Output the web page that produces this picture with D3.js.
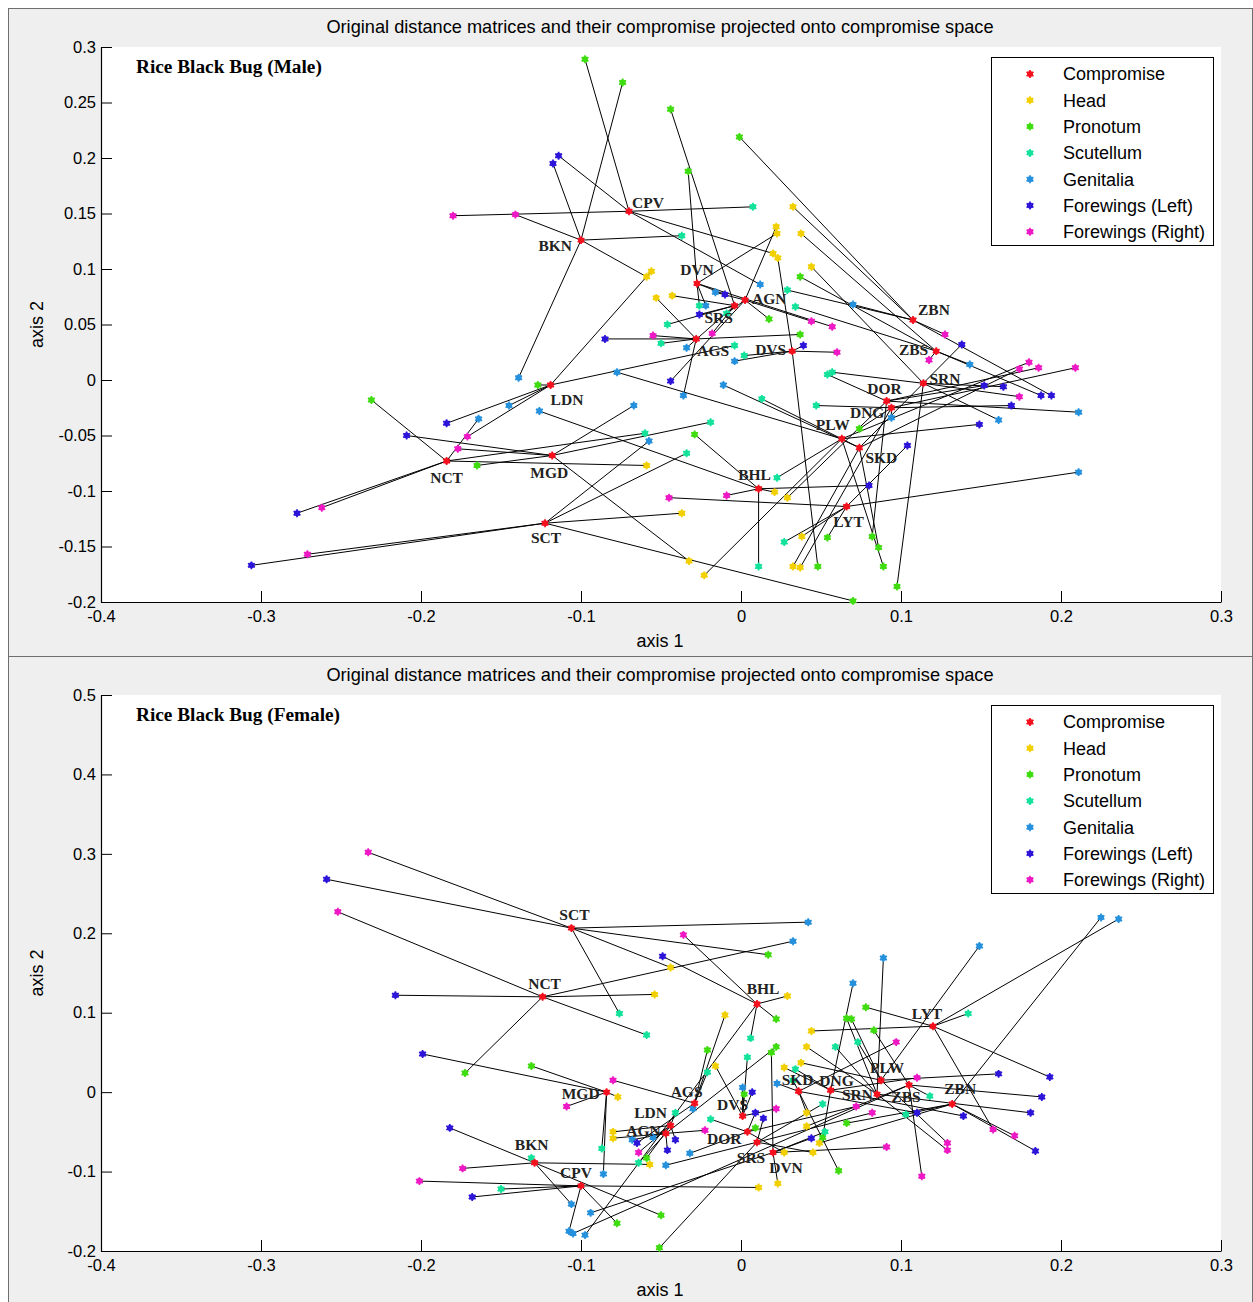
<!DOCTYPE html>
<html>
<head>
<meta charset="utf-8">
<script src="https://cdn.jsdelivr.net/npm/d3@7"></script>
<style>
  body { margin: 0; background: #fff; }
  text { font-family: "Liberation Sans", Arial, sans-serif; }
  .site, .note { font-family: "Liberation Serif", "Times New Roman", serif; font-weight: bold; }
</style>
</head>
<body>
<div id="chart"></div>
<script>
const sites = ['CPV','BKN','DVN','AGN','SRS','AGS','DVS','LDN','MGD','SCT','NCT','BHL','PLW','LYT','SKD','DNG','DOR','SRN','ZBS','ZBN']
const seriesNames = ['Compromise','Head','Pronotum','Scutellum','Genitalia','Forewings (Left)','Forewings (Right)']
const xTicks = [-0.4,-0.3,-0.2,-0.1,0,0.1,0.2,0.3]
const yTicksMale = [-0.2,-0.15,-0.1,-0.05,0,0.05,0.1,0.15,0.2,0.25,0.3]
const yTicksFemale = [-0.2,-0.1,0,0.1,0.2,0.3,0.4,0.5]

// male, [axis 1, axis 2] per site in the order of `sites`
const maleCompromise = [[-0.070,0.152],[-0.100,0.126],[-0.0275,0.087],[0.0025,0.072],[-0.004,0.067],[-0.028,0.037],[0.032,0.026],[-0.119,-0.0045],[-0.118,-0.068],[-0.1225,-0.129],[-0.184,-0.073],[0.011,-0.098],[0.063,-0.053],[0.066,-0.114],[0.074,-0.061],[0.094,-0.025],[0.091,-0.019],[0.114,-0.003],[0.122,0.026],[0.1075,0.054]]
const maleHead = [[0.020,0.114],[-0.059,0.093],[0.0225,0.132],[0.022,0.138],[-0.043,0.076],[-0.053,0.074],[0.023,0.110],[-0.056,0.098],[-0.0325,-0.163],[-0.037,-0.120],[-0.059,-0.077],[0.021,-0.101],[-0.023,-0.176],[0.038,-0.141],[0.0325,-0.168],[0.037,-0.169],[0.029,-0.106],[0.044,0.102],[0.0375,0.132],[0.0325,0.156]]
const malePronotum = [[-0.0975,0.289],[-0.074,0.268],[-0.033,0.188],[0.0175,0.055],[-0.044,0.244],[0.037,0.041],[0.048,-0.168],[-0.127,-0.0045],[-0.165,-0.077],[0.070,-0.199],[-0.231,-0.018],[-0.029,-0.049],[0.089,-0.168],[0.054,-0.142],[0.086,-0.151],[0.074,-0.044],[0.082,-0.141],[0.0975,-0.186],[0.037,0.093],[-0.001,0.219]]
const maleScutellum = [[0.0075,0.156],[-0.037,0.130],[-0.026,0.067],[-0.009,0.060],[-0.046,0.050],[-0.050,0.033],[0.002,0.022],[-0.004,0.031],[-0.019,-0.038],[-0.034,-0.066],[-0.060,-0.048],[0.011,-0.168],[0.0225,-0.088],[0.027,-0.146],[0.013,-0.017],[0.047,-0.023],[0.054,0.005],[0.057,0.007],[0.034,0.066],[0.029,0.081]]
const maleGenitalia = [[0.012,0.086],[-0.139,0.002],[-0.022,0.067],[-0.016,0.079],[-0.034,0.029],[-0.036,-0.014],[-0.004,0.017],[-0.145,-0.023],[-0.067,-0.023],[-0.0575,-0.055],[-0.164,-0.035],[-0.126,-0.028],[-0.0775,0.007],[0.211,-0.083],[-0.011,-0.0045],[0.094,-0.034],[0.211,-0.029],[0.161,-0.036],[0.143,0.014],[0.070,0.068]]
const maleWingLeft = [[-0.114,0.202],[-0.1175,0.195],[-0.010,0.077],[-0.044,-0.001],[-0.026,0.059],[-0.085,0.037],[0.039,0.031],[-0.184,-0.039],[-0.209,-0.050],[-0.306,-0.167],[-0.2775,-0.120],[0.080,-0.095],[0.149,-0.040],[0.104,-0.059],[0.138,0.032],[0.169,-0.023],[0.152,-0.005],[0.164,-0.006],[0.1875,-0.014],[0.194,-0.014]]
const maleWingRight = [[-0.180,0.148],[-0.141,0.149],[0.057,0.048],[0.044,0.053],[-0.018,0.042],[-0.055,0.040],[0.060,0.025],[-0.171,-0.051],[-0.177,-0.062],[-0.271,-0.157],[-0.262,-0.115],[-0.009,-0.104],[0.180,0.016],[-0.045,-0.106],[0.174,0.010],[0.209,0.011],[0.186,0.011],[0.174,-0.015],[0.1175,0.018],[0.1275,0.041]]

// female
const femaleCompromise = [[-0.100,-0.118],[-0.129,-0.089],[0.020,-0.076],[-0.047,-0.052],[0.010,-0.063],[-0.029,-0.014],[0.001,-0.030],[-0.044,-0.042],[-0.084,0.000],[-0.106,0.2065],[-0.124,0.120],[0.010,0.111],[0.0875,0.015],[0.120,0.083],[0.036,0.001],[0.056,0.0025],[0.004,-0.050],[0.085,-0.0025],[0.105,0.009],[0.132,-0.015]]
const femaleHead = [[0.011,-0.120],[-0.057,-0.091],[0.023,-0.115],[-0.080,-0.058],[0.045,-0.076],[-0.010,0.097],[-0.016,0.033],[-0.080,-0.050],[-0.077,-0.006],[-0.044,0.157],[-0.054,0.123],[0.029,0.121],[0.0375,0.037],[0.044,0.077],[0.041,-0.026],[0.027,0.031],[0.027,-0.076],[0.041,0.057],[0.041,-0.043],[0.049,-0.064]]
const femalePronotum = [[-0.0775,-0.165],[-0.050,-0.155],[0.019,0.050],[0.022,0.057],[-0.051,-0.196],[-0.021,0.053],[0.002,-0.0025],[-0.059,-0.083],[-0.131,0.033],[0.017,0.173],[-0.1725,0.024],[0.022,0.092],[0.069,0.092],[0.078,0.107],[0.061,-0.099],[0.051,-0.057],[0.009,-0.045],[0.066,0.093],[0.083,0.078],[0.066,-0.039]]
const femaleScutellum = [[-0.150,-0.122],[-0.131,-0.083],[0.0525,-0.050],[-0.064,-0.089],[0.051,-0.015],[-0.021,0.025],[0.004,0.044],[-0.041,-0.026],[-0.087,-0.071],[-0.076,0.099],[-0.059,0.072],[0.006,0.068],[0.073,0.063],[0.142,0.099],[0.0325,0.015],[0.034,0.029],[-0.019,-0.034],[0.059,0.057],[0.118,-0.005],[0.103,-0.028]]
const femaleGenitalia = [[-0.1075,-0.175],[-0.106,-0.141],[-0.094,-0.152],[-0.068,-0.060],[-0.047,-0.092],[-0.030,-0.021],[0.001,0.006],[-0.055,-0.057],[-0.086,-0.103],[0.042,0.214],[0.0325,0.190],[-0.0975,-0.180],[0.149,0.184],[0.236,0.218],[0.0225,0.011],[0.070,0.137],[-0.032,-0.077],[0.089,0.169],[-0.105,-0.178],[0.225,0.220]]
const femaleWingLeft = [[-0.168,-0.132],[-0.182,-0.045],[0.044,-0.058],[-0.046,-0.073],[0.014,-0.033],[-0.065,-0.064],[0.007,0.000],[-0.041,-0.060],[-0.199,0.048],[-0.259,0.268],[-0.216,0.122],[-0.049,0.171],[0.161,0.023],[0.193,0.019],[0.110,-0.026],[0.139,-0.030],[0.009,-0.026],[0.181,-0.026],[0.188,-0.006],[0.184,-0.074]]
const femaleWingRight = [[-0.201,-0.112],[-0.174,-0.096],[0.091,-0.069],[-0.0225,-0.048],[0.082,-0.026],[-0.080,0.015],[0.022,-0.021],[-0.064,-0.076],[-0.109,-0.018],[-0.233,0.302],[-0.252,0.227],[-0.036,0.198],[0.129,-0.064],[0.1575,-0.047],[0.097,0.063],[0.110,0.018],[0.072,-0.018],[0.129,-0.073],[0.113,-0.106],[0.171,-0.055]]

const colors = ['#f5101e', '#f2d000', '#3fdc10', '#12e29a', '#2590dc', '#2c14d8', '#ee18c4']

// label placement next to each compromise point: [dx, dy, anchor]
const maleLabelPos = {
  CPV: [3,-9,'start'], BKN: [-9,5,'end'], DVN: [0,-14,'middle'], AGN: [7,-2,'start'],
  SRS: [-16,12,'middle'], AGS: [1,12,'start'], DVS: [-6,-2,'end'], LDN: [0,15,'start'],
  MGD: [-3,17,'middle'], SCT: [1,14,'middle'], NCT: [0,17,'middle'], BHL: [-4,-14,'middle'],
  PLW: [-9,-14,'middle'], LYT: [2,15,'middle'], SKD: [6,10,'start'], DNG: [-7,5,'end'],
  DOR: [-2,-13,'middle'], SRN: [6,-5,'start'], ZBS: [-8,-2,'end'], ZBN: [5,-10,'start']
}
const femaleLabelPos = {
  SCT: [3,-14,'middle'], NCT: [2,-13,'middle'], BHL: [6,-15,'middle'], LYT: [-6,-13,'middle'],
  PLW: [6,-13,'middle'], SKD: [-1,-12,'middle'], DNG: [6,-10,'middle'], SRN: [-4,0,'end'],
  ZBS: [-3,12,'middle'], ZBN: [8,-15,'middle'], MGD: [-7,1,'end'], AGS: [-8,-12,'middle'],
  DVS: [-10,-11,'middle'], LDN: [-20,-13,'middle'], AGN: [-5,-3,'end'], DOR: [-6,7,'end'],
  SRS: [-6,15,'middle'], DVN: [13,15,'middle'], BKN: [-3,-18,'middle'], CPV: [-5,-13,'middle']
}

const panels = [
  {
    frame: [8, 8, 1244, 648], top: 47, bottom: 602,
    yDomain: [-0.2, 0.3], yTicks: yTicksMale, note: 'Rice Black Bug (Male)',
    series: [maleCompromise, maleHead, malePronotum, maleScutellum, maleGenitalia, maleWingLeft, maleWingRight],
    labelPos: maleLabelPos
  },
  {
    frame: [8, 656, 1244, 646], top: 695, bottom: 1251,
    yDomain: [-0.2, 0.5], yTicks: yTicksFemale, note: 'Rice Black Bug (Female)',
    series: [femaleCompromise, femaleHead, femalePronotum, femaleScutellum, femaleGenitalia, femaleWingLeft, femaleWingRight],
    labelPos: femaleLabelPos
  }
]

const width = 1253
const height = 1302
const left = 101
const right = 1221
const title = 'Original distance matrices and their compromise projected onto compromise space'
const fmt = d => String(+d.toFixed(2))

const svg = d3.select('#chart').append('svg')
  .attr('width', width)
  .attr('height', height)

svg.append('rect').attr('width', width).attr('height', height).attr('fill', '#fff')

const drawMarker = (g, x, y, color) => {
  g.append('path')
    .attr('d', d3.symbol(d3.symbolAsterisk, 44)())
    .attr('transform', `translate(${x},${y})`)
    .attr('stroke', color)
    .attr('stroke-width', 1.7)
    .attr('fill', 'none')
  g.append('circle')
    .attr('cx', x).attr('cy', y).attr('r', 3)
    .attr('fill', color)
}

panels.forEach(p => {
  const [fx, fy, fw, fh] = p.frame
  svg.append('rect')
    .attr('x', fx + 0.5).attr('y', fy + 0.5)
    .attr('width', fw).attr('height', fh)
    .attr('fill', '#efefef')
    .attr('stroke', '#6e6e6e')

  svg.append('rect')
    .attr('x', left).attr('y', p.top)
    .attr('width', right - left).attr('height', p.bottom - p.top)
    .attr('fill', '#fff')

  const x = d3.scaleLinear().domain([-0.4, 0.3]).range([left, right])
  const y = d3.scaleLinear().domain(p.yDomain).range([p.bottom, p.top])

  // axes
  const xAxis = d3.axisBottom(x).tickValues(xTicks).tickSizeInner(-11).tickSizeOuter(0).tickPadding(8).tickFormat(fmt)
  const yAxis = d3.axisLeft(y).tickValues(p.yTicks).tickSizeInner(-11).tickSizeOuter(0).tickPadding(5).tickFormat(fmt)

  const gx = svg.append('g')
    .attr('transform', `translate(0,${p.bottom})`)
    .call(xAxis)
  const gy = svg.append('g')
    .attr('transform', `translate(${left},0)`)
    .call(yAxis)
  ;[gx, gy].forEach(g => {
    g.select('.domain').attr('stroke', '#000').attr('stroke-width', 1.2)
    g.selectAll('.tick line').attr('stroke', '#000')
    g.selectAll('.tick text').attr('fill', '#000').style('font-size', '16.5px')
      .style('font-family', '"Liberation Sans", Arial, sans-serif')
  })

  // titles
  svg.append('text')
    .attr('x', (left + right) / 2 - 1).attr('y', p.top - 20)
    .attr('text-anchor', 'middle').attr('dy', '0.35em')
    .style('font-size', '18.2px')
    .text(title)
  svg.append('text')
    .attr('x', (left + right) / 2 - 1).attr('y', p.bottom + 39)
    .attr('text-anchor', 'middle').attr('dy', '0.35em')
    .style('font-size', '18px')
    .text('axis 1')
  svg.append('text')
    .attr('transform', `translate(37,${(p.top + p.bottom) / 2}) rotate(-90)`)
    .attr('text-anchor', 'middle').attr('dy', '0.35em')
    .style('font-size', '18px')
    .text('axis 2')
  svg.append('text')
    .attr('class', 'note')
    .attr('x', 136).attr('y', p.top + 19)
    .attr('dy', '0.35em')
    .style('font-size', '19.3px')
    .text(p.note)

  // lines from compromise to each partial point
  const comp = p.series[0]
  const lines = svg.append('g')
  p.series.slice(1).forEach(s => {
    s.forEach((pt, i) => {
      lines.append('line')
        .attr('x1', x(comp[i][0])).attr('y1', y(comp[i][1]))
        .attr('x2', x(pt[0])).attr('y2', y(pt[1]))
        .attr('stroke', '#000')
        .attr('stroke-width', 1)
    })
  })

  // partial points then compromise points
  const marks = svg.append('g')
  p.series.slice(1).forEach((s, k) => {
    s.forEach(pt => drawMarker(marks, x(pt[0]), y(pt[1]), colors[k + 1]))
  })
  comp.forEach(pt => drawMarker(marks, x(pt[0]), y(pt[1]), colors[0]))

  // site labels
  sites.forEach((name, i) => {
    const [dx, dy, anchor] = p.labelPos[name]
    svg.append('text')
      .attr('class', 'site')
      .attr('x', x(comp[i][0]) + dx)
      .attr('y', y(comp[i][1]) + dy)
      .attr('dy', '0.35em')
      .attr('text-anchor', anchor)
      .attr('fill', '#222')
      .style('font-size', '15.5px')
      .text(name)
  })

  // legend
  const lg = svg.append('g').attr('transform', `translate(991,${p.top + 10})`)
  lg.append('rect')
    .attr('x', 0.5).attr('y', 0.5)
    .attr('width', 222).attr('height', 188)
    .attr('fill', '#fff')
    .attr('stroke', '#000')
  seriesNames.forEach((name, k) => {
    const ry = 17 + k * 26.3
    drawMarker(lg, 39, ry, colors[k])
    lg.append('text')
      .attr('x', 72).attr('y', ry)
      .attr('dy', '0.35em')
      .style('font-size', '18px')
      .text(name)
  })
})
</script>
</body>
</html>
